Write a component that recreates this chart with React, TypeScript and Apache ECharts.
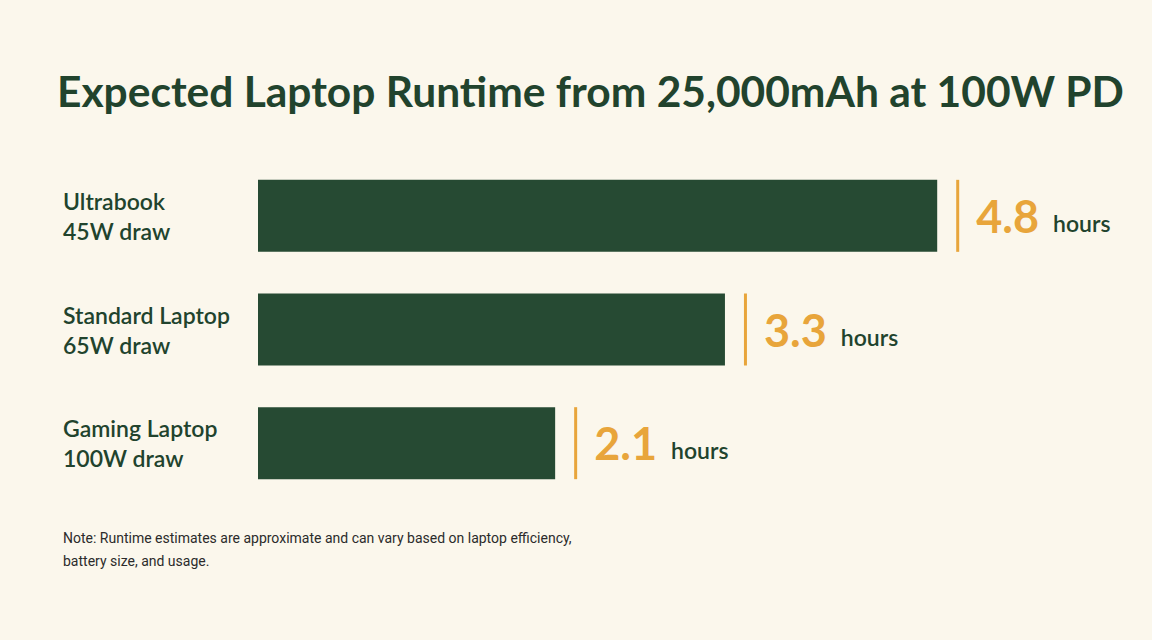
import React, { useEffect, useRef } from "react";
import * as echarts from "echarts";

const titleText = "Expected Laptop Runtime from 25,000mAh at 100W PD";
const laptopNames = ["Ultrabook", "Standard Laptop", "Gaming Laptop"];
const drawLabels = ["45W draw", "65W draw", "100W draw"];
const runtimeHours = [4.8, 3.3, 2.1];
const unitLabel = "hours";
const noteLines = [
  "Note: Runtime estimates are approximate and can vary based on laptop efficiency,",
  "battery size, and usage.",
];

const BG = "#fbf7ec";
const GREEN = "#264a33";
const TEXT_GREEN = "#21432d";
const ORANGE = "#e8a53b";
const FONT = "Lato";

export default function App() {
  const ref = useRef<HTMLDivElement>(null);
  useEffect(() => {
    if (!ref.current) return;
    const chart = echarts.init(ref.current, null, { renderer: "svg" });
    const categories = laptopNames.map((n, i) => `${n}\n${drawLabels[i]}`);
    chart.setOption({
      animation: false,
      backgroundColor: BG,
      title: {
        text: titleText,
        left: 52,
        top: 64,
        textStyle: {
          fontFamily: FONT,
          fontSize: 42.5,
          fontWeight: "bold",
          color: TEXT_GREEN,
        },
      },
      grid: { left: 258, right: 45, top: 159, bottom: 140 },
      xAxis: { type: "value", min: 0, max: 6, show: false },
      yAxis: {
        type: "category",
        inverse: true,
        data: categories,
        axisLine: { show: false },
        axisTick: { show: false },
        splitLine: { show: false },
        axisLabel: {
          align: "left",
          verticalAlign: "middle",
          margin: 195,
          fontFamily: FONT,
          fontSize: 23,
          fontWeight: 600,
          lineHeight: 30,
          padding: [0, 0, 6, 0],
          color: TEXT_GREEN,
        },
      },
      series: [
        {
          type: "bar",
          data: runtimeHours,
          barWidth: 72,
          itemStyle: { color: GREEN },
          label: {
            show: true,
            position: "right",
            distance: 19,
            formatter: (p: any) => `{line|}{val|${p.value.toFixed(1)}}{unit|${unitLabel}}`,
            rich: {
              line: { width: 3, height: 72, backgroundColor: ORANGE, verticalAlign: "middle" },
              val: {
                fontFamily: FONT,
                fontSize: 45,
                fontWeight: "bold",
                color: ORANGE,
                padding: [0, 14, 0, 17],
                verticalAlign: "middle",
              },
              unit: {
                fontFamily: FONT,
                fontSize: 23,
                fontWeight: 600,
                color: TEXT_GREEN,
                padding: [14, 0, 0, 0],
                verticalAlign: "middle",
              },
            },
          },
        },
      ],
      graphic: [
        {
          type: "text",
          left: 63,
          top: 526,
          style: {
            text: noteLines.join("\n"),
            fontFamily: "Roboto",
            fontSize: 14,
            lineHeight: 23,
            fill: "#2b2b2b",
          },
        },
      ],
    });
    return () => chart.dispose();
  }, []);
  return (
    <div
      ref={ref}
      style={{ position: "fixed", left: 0, top: 0, width: 1152, height: 640 }}
    />
  );
}
